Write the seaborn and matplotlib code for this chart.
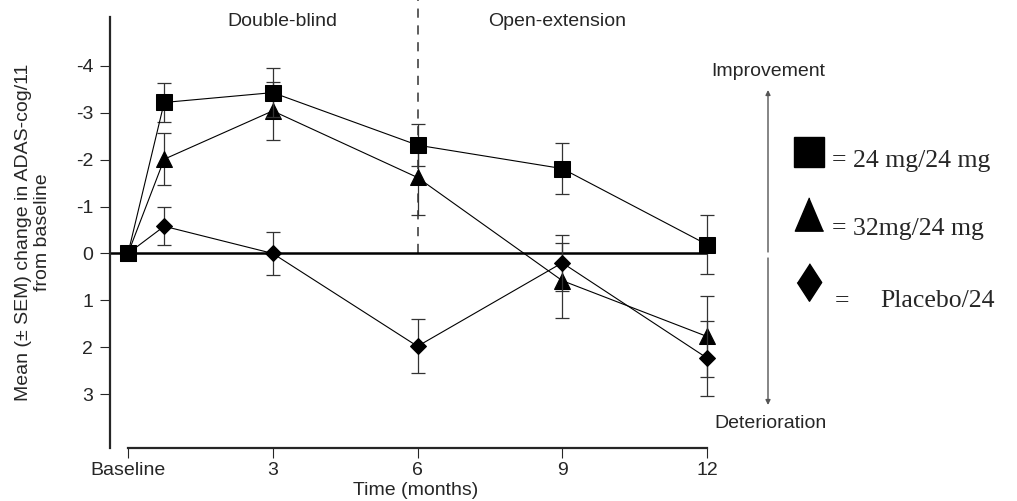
import numpy as np
import pandas as pd
import matplotlib
matplotlib.use("Agg")
import matplotlib.pyplot as plt
from matplotlib.lines import Line2D
from matplotlib.patches import FancyArrowPatch
import seaborn as sns

months = [0, 0.75, 3, 6, 9, 12]
tick_pos = [0, 3, 6, 9, 12]
tick_labels = ["Baseline", "3", "6", "9", "12"]
y_ticks = [-4, -3, -2, -1, 0, 1, 2, 3]

groups = ["32mg/24 mg", "Placebo/24", "24 mg/24 mg"]
val_32 = [0, -2.01, -3.04, -1.62, 0.58, 1.77]
sem_32 = [0, 0.56, 0.62, 0.79, 0.80, 0.86]
val_pl = [0, -0.58, 0.0, 1.98, 0.20, 2.23]
sem_pl = [0, 0.40, 0.46, 0.58, 0.60, 0.80]
val_24 = [0, -3.22, -3.43, -2.31, -1.81, -0.19]
sem_24 = [0, 0.42, 0.52, 0.45, 0.54, 0.62]

sns.set_style("ticks")
plt.rcParams["font.family"] = ["Liberation Sans", "DejaVu Sans"]
plt.rcParams["axes.unicode_minus"] = False

W, H = 1017, 501
fig = plt.figure(figsize=(W / 100, H / 100), dpi=100)
L, R, T, B = 110, 721, 17, 448
ax = fig.add_axes([L / W, 1 - B / H, (R - L) / W, (B - T) / H])

markers = {"24 mg/24 mg": "s", "32mg/24 mg": "^", "Placebo/24": "D"}
msizes = {"24 mg/24 mg": 11, "32mg/24 mg": 12, "Placebo/24": 8.5}
vals = {"24 mg/24 mg": val_24, "32mg/24 mg": val_32, "Placebo/24": val_pl}
sems = {"24 mg/24 mg": sem_24, "32mg/24 mg": sem_32, "Placebo/24": sem_pl}

xl = (-(128 - L) / 48.25, 12 + (R - 707) / 48.25)
yl_bottom = 3 + (B - 394) / 47.0
yl_top = -4 - (66 - T) / 47.0

# zero line
ax.hlines(0, xl[0], 12, color="black", lw=1.8, zorder=2)
# dashed separator
ax.vlines(6, 0, yl_top - 0.4, color="#333333", lw=1.1, linestyles=(0, (6, 5)),
          clip_on=False, zorder=1)

for i, g in enumerate(groups):
    df = pd.DataFrame({"month": months, "change": vals[g]})
    ax.errorbar(months[1:], vals[g][1:], yerr=sems[g][1:], fmt="none", ecolor="#333333",
                elinewidth=0.9, capsize=5, capthick=0.9, zorder=3 + i)
    sns.lineplot(data=df, x="month", y="change", ax=ax, color="black", lw=0.8,
                 marker=markers[g], markersize=msizes[g], markeredgecolor="black",
                 markerfacecolor="black", zorder=4 + i)

ax.set_xlim(*xl)
ax.set_ylim(yl_bottom, yl_top)
ax.set_xticks(tick_pos)
ax.set_xticklabels(tick_labels, fontsize=14)
ax.set_yticks(y_ticks)
ax.set_yticklabels([str(v) for v in y_ticks], fontsize=14)
ax.tick_params(axis="y", length=7, width=0.8, pad=5)
ax.tick_params(axis="x", length=7, width=0.8, pad=3)
ax.set_xlabel("Time (months)", fontsize=14, labelpad=2)
ax.set_ylabel("Mean (± SEM) change in ADAS-cog/11\nfrom baseline", fontsize=14)
ax.yaxis.label.set_va("center")
ax.yaxis.set_label_coords((33 - L) / (R - L), 0.5)
for s in ["top", "right"]:
    ax.spines[s].set_visible(False)
ax.spines["left"].set_linewidth(1.6)
ax.spines["bottom"].set_linewidth(1.6)
ax.spines["bottom"].set_bounds(0, 12)

# phase labels
fig.text(282 / W, 1 - 21 / H, "Double-blind", ha="center", va="center", fontsize=14)
fig.text(488 / W, 1 - 21 / H, "Open-extension", ha="left", va="center", fontsize=14)

# improvement / deterioration arrow
fig.add_artist(FancyArrowPatch((768 / W, 1 - 252 / H), (768 / W, 1 - 90 / H),
               transform=fig.transFigure, arrowstyle="-|>", mutation_scale=7,
               color="#555555", lw=1, shrinkA=0, shrinkB=0))
fig.add_artist(FancyArrowPatch((768 / W, 1 - 258 / H), (768 / W, 1 - 405 / H),
               transform=fig.transFigure, arrowstyle="-|>", mutation_scale=7,
               color="#555555", lw=1, shrinkA=0, shrinkB=0))
fig.text(768 / W, 1 - 71 / H, "Improvement", ha="center", va="center", fontsize=14)
fig.text(770 / W, 1 - 424 / H, "Deterioration", ha="center", va="center", fontsize=14)

# custom legend
serif = ["Liberation Serif", "DejaVu Serif"]
tri = [(0, 1), (-0.85, -1), (0.85, -1)]
dia = [(0, 1), (0.65, 0), (0, -1), (-0.65, 0)]
fig.add_artist(Line2D([809 / W], [1 - 152 / H], marker="s", markersize=21, color="black",
                      transform=fig.transFigure))
fig.add_artist(Line2D([809 / W], [1 - 213.5 / H], marker=tri, markersize=24, color="black",
                      transform=fig.transFigure))
fig.add_artist(Line2D([809 / W], [1 - 281.5 / H], marker=dia, markersize=27, color="black",
                      transform=fig.transFigure))
fig.text(832 / W, 1 - 167 / H, "= 24 mg/24 mg", ha="left", va="baseline", fontsize=18.5, family=serif)
fig.text(832 / W, 1 - 235 / H, "= 32mg/24 mg", ha="left", va="baseline", fontsize=18.5, family=serif)
fig.text(835 / W, 1 - 307 / H, "=", ha="left", va="baseline", fontsize=18.5, family=serif)
fig.text(880 / W, 1 - 307 / H, "Placebo/24", ha="left", va="baseline", fontsize=18.5, family=serif)

fig.savefig("out.png", dpi=100)
